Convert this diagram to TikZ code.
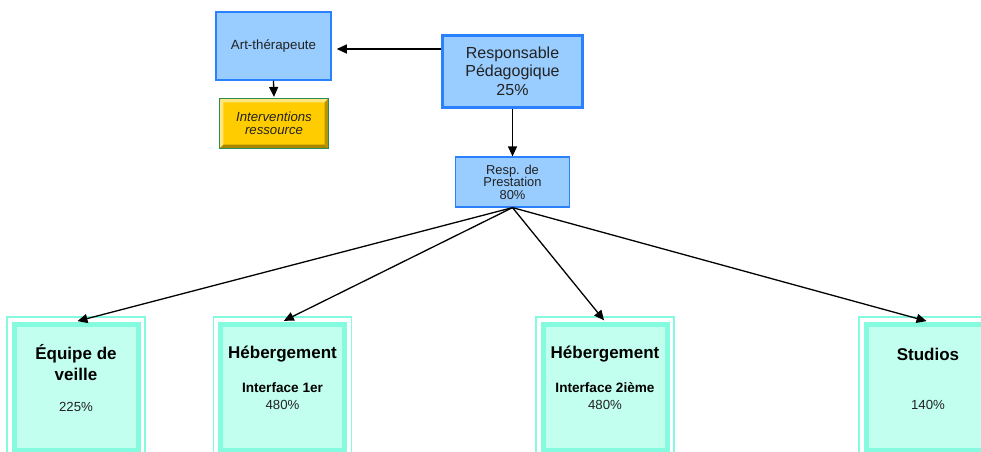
\documentclass[tikz,border=0pt]{standalone}
\usepackage{fontspec}
\setmainfont{Liberation Sans}
\usetikzlibrary{arrows.meta,calc}
\definecolor{lblue}{HTML}{99CCFF}
\definecolor{bblue}{HTML}{2A80FF}
\definecolor{band}{HTML}{84FBDE}
\definecolor{aqfill}{HTML}{C2FFEE}
\definecolor{gold}{HTML}{FFCC00}
\definecolor{goldlight}{HTML}{FFE680}
\definecolor{golddark}{HTML}{A88600}
\definecolor{gborder}{HTML}{2E8B57}
\definecolor{txt}{HTML}{222222}
\tikzset{
  bluebox/.style={draw=bblue, fill=lblue, line width=1.5pt, text=txt, align=center, inner sep=0pt},
  aqbox/.style={draw=band, fill=aqfill, line width=5pt, minimum width=124pt, minimum height=126pt, inner sep=0pt},
  frameline/.style={draw=band, line width=1.3pt},
  arr/.style={-{Triangle[length=10pt,width=9pt]}, line width=1.3pt, black},
  title/.style={font=\fontsize{17}{21}\selectfont\bfseries, align=center, text=black, inner sep=0pt},
  sub/.style={font=\fontsize{13.6}{15}\selectfont\bfseries, text=black, inner sep=0pt},
  pct/.style={font=\fontsize{13.2}{15}\selectfont, text=txt, inner sep=0pt},
}
\begin{document}
\begin{tikzpicture}[x=1pt,y=-1pt]
\clip (0,0) rectangle (981,451);
\fill[white] (0,0) rectangle (981,451);
% top blue boxes
\node[bluebox, minimum width=115pt, minimum height=68pt, font=\fontsize{13.3}{15}\selectfont] (art) at (273.5,46) {Art-thérapeute};
\node[bluebox, line width=3pt, minimum width=140pt, minimum height=72pt, font=\fontsize{16}{18.5}\selectfont] (resp) at (512.5,71) {Responsable\\Pédagogique\\25\%};
\node[bluebox, line width=1.2pt, minimum width=114pt, minimum height=50pt, font=\fontsize{12.9}{12.5}\selectfont] (presta) at (512.5,182) {Resp. de\\Prestation\\80\%};
% interventions bevel box
\node[draw=gborder, fill=gold, line width=1.2pt, minimum width=108pt, minimum height=49pt, inner sep=0pt] (interv) at (274,123.5) {};
\fill[goldlight] (interv.north west) -- (interv.north east) -- ([shift={(-4pt,-4pt)}]interv.north east) -- ([shift={(4pt,-4pt)}]interv.north west) -- cycle;
\fill[goldlight] (interv.north west) -- (interv.south west) -- ([shift={(4pt,4pt)}]interv.south west) -- ([shift={(4pt,-4pt)}]interv.north west) -- cycle;
\fill[golddark] (interv.south west) -- (interv.south east) -- ([shift={(-4pt,4pt)}]interv.south east) -- ([shift={(4pt,4pt)}]interv.south west) -- cycle;
\fill[golddark!80!gold] (interv.north east) -- (interv.south east) -- ([shift={(-4pt,4pt)}]interv.south east) -- ([shift={(-4pt,-4pt)}]interv.north east) -- cycle;
\draw[gborder, line width=1.2pt] (interv.north west) rectangle (interv.south east);
\node[font=\fontsize{13.2}{13}\selectfont\itshape, align=center, text=txt, inner sep=0pt] (intervt) at (interv.center) {Interventions\\ressource};
% bottom boxes
\foreach \n/\cx in {eq/76, heb1/282.5, heb2/605, stu/928}{
  \node[aqbox] (\n) at (\cx,387) {};
  \draw[frameline] ([shift={(-4.6pt,4.6pt)}]\n.north west) rectangle ([shift={(4.6pt,-4.6pt)}]\n.south east);
}
\node[title] (eqt) at (76,362.5) {Équipe de\\veille};
\node[pct] (eqp) at (76,407) {225\%};
\node[title] (heb1t) at (282.5,354) {Hébergement};
\node[sub] (heb1s) at (282.5,388) {Interface 1er};
\node[pct] (heb1p) at (282.5,405) {480\%};
\node[title] (heb2t) at (605,354) {Hébergement};
\node[sub] (heb2s) at (605,388) {Interface 2ième};
\node[pct] (heb2p) at (605,405) {480\%};
\node[title] (stut) at (928,354) {Studios};
\node[pct] (stup) at (928,405) {140\%};
% connectors
\coordinate (rl) at (resp.west |- 0,49);
\coordinate (ae) at ([xshift=5pt]art.east |- 0,49);
\draw[arr] (rl) -- (ae);
\draw[arr, shorten >=1.5pt] (art.south) -- (interv.north);
\draw[arr] (resp.south) -- (presta.north);
\foreach \n in {eq, heb1, heb2, stu}{
  \draw[arr, shorten >=1.5pt] (presta.south) -- (\n.north);
}
\end{tikzpicture}
\end{document}
